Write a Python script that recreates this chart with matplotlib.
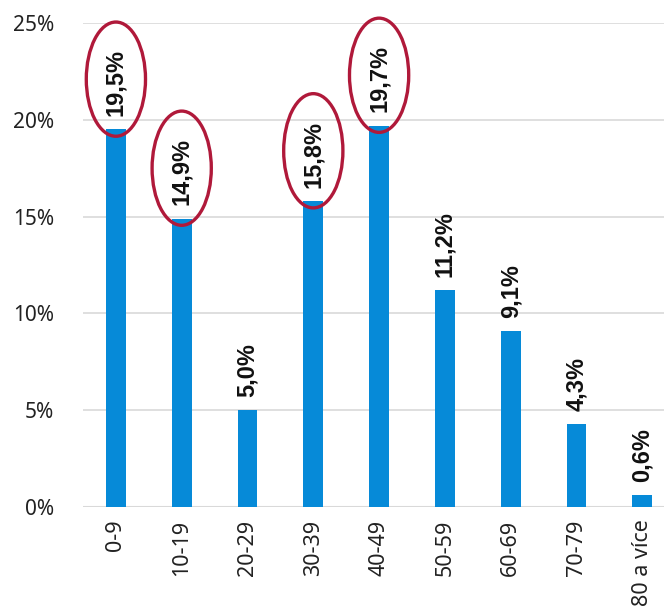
import matplotlib
matplotlib.use("Agg")
import matplotlib.pyplot as plt
from matplotlib.patches import Ellipse

categories = ["0-9", "10-19", "20-29", "30-39", "40-49", "50-59", "60-69", "70-79", "80 a více"]
values = [19.5, 14.9, 5.0, 15.8, 19.7, 11.2, 9.1, 4.3, 0.6]
highlighted = ["0-9", "10-19", "30-39", "40-49"]
yticks = [0, 5, 10, 15, 20, 25]

plt.rcParams['font.family'] = ['Noto Sans', 'DejaVu Sans']

fig = plt.figure(figsize=(6.64, 6.14), dpi=100)
ax = fig.add_axes([83/664, 1-507/614, 1-83/664, (507-23)/614])

x = list(range(len(categories)))
ax.bar(x, values, width=0.30, color="#068ad8", zorder=3)

ax.set_xlim(-0.5, 8.33)
ax.set_ylim(0, 25)
ax.set_yticks(yticks)
ax.set_yticklabels([f"{t}%" for t in yticks], fontsize=15, color="#222222")
ax.set_xticks(x)
ax.set_xticklabels(categories, rotation=90, fontsize=15.5, color="#222222")
ax.tick_params(axis='x', length=0, pad=9)
ax.tick_params(axis='y', length=0, pad=21)
ax.grid(axis='y', color="#d9d9d9", linewidth=1.2, zorder=0)
for s in ax.spines.values():
    s.set_visible(False)
ax.axhline(0, color="#d9d9d9", linewidth=1.5, zorder=2)

for xi, v, c in zip(x, values, categories):
    ax.annotate(f"{v:.1f}%".replace(".", ","), (xi, v), xytext=(0, 9.5),
                textcoords="offset points", rotation=90, ha="center", va="bottom",
                fontsize=17, fontweight="bold", color="#111111", zorder=4,
                family=["Liberation Sans", "DejaVu Sans"])
    if c in highlighted:
        e = Ellipse((xi, v + 2.6), width=0.9, height=5.9, fill=False,
                    edgecolor="#b0193a", linewidth=2.4, zorder=5, clip_on=False)
        ax.add_patch(e)

fig.savefig("out.png", dpi=100)
